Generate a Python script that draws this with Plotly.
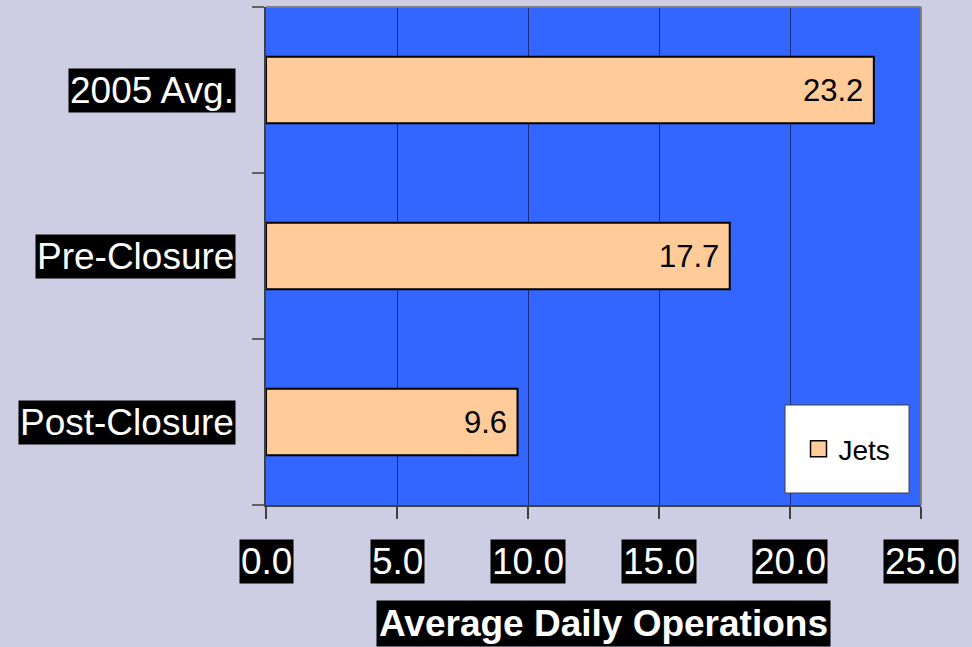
import plotly.graph_objects as go

categories = ["2005 Avg.", "Pre-Closure", "Post-Closure"]
jets = [23.2, 17.7, 9.6]
x_ticks = [0, 5, 10, 15, 20, 25]
x_tick_labels = ["0.0", "5.0", "10.0", "15.0", "20.0", "25.0"]
x_title = "Average Daily Operations"
series_name = "Jets"

W, H = 972, 647
L, R, T, B = 266, 51, 7, 142
pw = W - L - R
ph = H - T - B

BAR = "#ffcc99"
FONT = "Liberation Sans, Arial, sans-serif"

fig = go.Figure()
fig.add_trace(go.Bar(
    y=categories, x=jets, orientation="h", name=series_name,
    marker=dict(color=BAR, line=dict(color="black", width=2)),
    width=0.4, showlegend=False, hoverinfo="x+y",
))
# legend-only marker
fig.add_trace(go.Scatter(
    x=[None], y=[None], mode="markers", name=series_name,
    marker=dict(symbol="square", size=16, color=BAR, line=dict(color="black", width=1.5)),
    showlegend=True,
))

annotations = []
for c in categories:
    annotations.append(dict(
        x=0, xref="paper", y=c, yref="y", xanchor="right", yanchor="middle",
        xshift=-30, text=c, showarrow=False, bgcolor="black", borderpad=1,
        font=dict(family=FONT, size=37, color="white"),
    ))
for v, t in zip(x_ticks, x_tick_labels):
    annotations.append(dict(
        x=v, xref="x", y=0, yref="paper", xanchor="center", yanchor="top",
        yshift=-34, text=t, showarrow=False, bgcolor="black", borderpad=1,
        font=dict(family=FONT, size=37, color="white"),
    ))
annotations.append(dict(
    x=(603 - L) / pw, xref="paper", y=0, yref="paper", xanchor="center", yanchor="top",
    yshift=-95, text="<b>" + x_title + "</b>", showarrow=False, bgcolor="black", borderpad=2,
    font=dict(family=FONT, size=37, color="white"),
))
for c, v in zip(categories, jets):
    annotations.append(dict(
        x=v, xref="x", y=c, yref="y", xanchor="right", yanchor="middle",
        xshift=-9, text=f"{v:.1f}", showarrow=False,
        font=dict(family=FONT, size=31, color="black"),
    ))

shapes = [
    dict(type="line", xref="paper", yref="paper", x0=0, x1=1, y0=1, y1=1,
         line=dict(color="#808080", width=2), layer="above"),
    dict(type="line", xref="paper", yref="paper", x0=1, x1=1, y0=0, y1=1,
         line=dict(color="#808080", width=2), layer="above"),
    dict(type="rect", xref="paper", yref="paper",
         x0=(785 - L) / pw, x1=(909 - L) / pw,
         y0=(H - B - 493) / ph, y1=(H - B - 405) / ph,
         fillcolor="white", line=dict(color="#404040", width=1), layer="above"),
]

fig.update_layout(
    width=W, height=H,
    margin=dict(l=L, r=R, t=T, b=B, pad=0),
    paper_bgcolor="#cdcde3",
    plot_bgcolor="#3366ff",
    font=dict(family=FONT, color="black"),
    bargap=0.6,
    annotations=annotations,
    shapes=shapes,
    showlegend=True,
    legend=dict(
        x=(847 - L) / pw, y=(H - B - 449) / ph, xanchor="center", yanchor="middle",
        bgcolor="rgba(0,0,0,0)", borderwidth=0,
        font=dict(family=FONT, size=28, color="black"),
        itemwidth=30,
    ),
    xaxis=dict(
        range=[0, 25], tickvals=x_ticks, showticklabels=False,
        showgrid=True, gridcolor="#1c2c7c", gridwidth=1,
        zeroline=False, showline=True, linecolor="#404040", linewidth=2,
        ticks="outside", ticklen=12, tickcolor="#404040", tickwidth=1.5,
        fixedrange=True,
    ),
    yaxis=dict(
        categoryorder="array", categoryarray=categories[::-1],
        range=[-0.5, 2.5], showticklabels=False, tickson="boundaries",
        showgrid=False, zeroline=False, showline=True, linecolor="#404040", linewidth=2,
        ticks="outside", ticklen=12, tickcolor="#606060", tickwidth=1.5,
        fixedrange=True,
    ),
)

fig.write_html(
    "out.html",
    config={"displayModeBar": False},
    post_script="document.body.style.margin='0';document.body.style.overflow='hidden';document.body.style.background='#cdcde3';",
)
